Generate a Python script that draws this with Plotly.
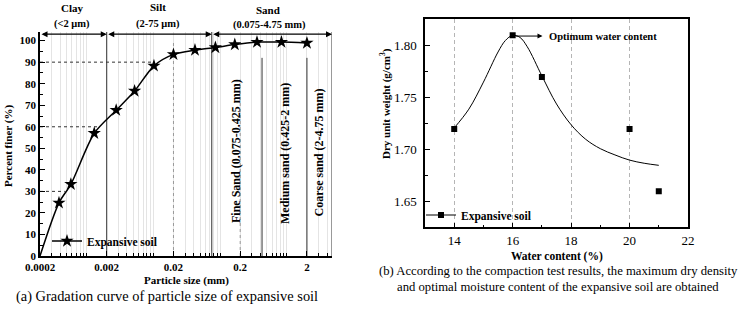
import numpy as np
import plotly.graph_objects as go

W, H = 740, 309
FONT = "Liberation Serif, Times New Roman, serif"

# ---------------- data (a) gradation curve ----------------
particle_size = [0.0002, 0.000385, 0.00058, 0.0013, 0.00277, 0.00523, 0.0102,
                 0.02, 0.042, 0.085, 0.166, 0.357, 0.83, 2.0]
percent_finer = [0, 24.7, 33.3, 57.0, 67.7, 76.6, 88.3,
                 93.6, 95.6, 96.8, 98.2, 99.3, 99.3, 98.9]
star_size = particle_size[1:]
star_finer = percent_finer[1:]
guide_y = [30, 60, 90]
guide_x_end = [0.00047, 0.00158, 0.0102]
size_ticks = [0.0002, 0.002, 0.02, 0.2, 2]
size_tick_text = ["0.0002", "0.002", "0.02", "0.2", "2"]
solid_bounds = [0.002, 0.075]
solid_bounds_top = [104, 104]
sub_bounds = [0.425, 2]
sub_bounds_top = [92, 92]
dotted_lines = [0.02, 0.2]
dotted_top = [100, 82]
x_max_a = 4.75

# ---------------- data (b) compaction ----------------
water = [14, 16, 17, 20, 21]
dry_density = [1.72, 1.81, 1.77, 1.72, 1.66]
fit_water = [14, 14.5, 15, 15.5, 15.75, 16, 16.25, 16.5, 17, 17.5, 18, 18.5, 19, 19.5, 20, 20.5, 21]
fit_density = [1.721, 1.739, 1.765, 1.794, 1.805, 1.810, 1.808, 1.799, 1.771, 1.744, 1.724,
               1.710, 1.701, 1.695, 1.690, 1.687, 1.685]

def px(x):
    return x / W

def py(y):
    return 1 - y / H

fig = go.Figure()
black = "black"

# ---- (a) ----
for xv, top in zip(solid_bounds + sub_bounds + [x_max_a], solid_bounds_top + sub_bounds_top + [104]):
    fig.add_trace(go.Scatter(x=[xv, xv], y=[0, top], mode="lines",
                             line=dict(color="#333333", width=1), showlegend=False,
                             hoverinfo="skip", xaxis="x", yaxis="y"))
for xv, top in zip(dotted_lines, dotted_top):
    fig.add_trace(go.Scatter(x=[xv, xv], y=[0, top], mode="lines",
                             line=dict(color="#999999", width=1, dash="dot"), showlegend=False,
                             hoverinfo="skip", xaxis="x", yaxis="y"))
for gy, gx in zip(guide_y, guide_x_end):
    fig.add_trace(go.Scatter(x=[particle_size[0], gx], y=[gy, gy], mode="lines",
                             line=dict(color="#333333", width=1, dash="dot"), showlegend=False,
                             hoverinfo="skip", xaxis="x", yaxis="y"))

fig.add_trace(go.Scatter(x=particle_size, y=percent_finer, mode="lines",
                         line=dict(color=black, width=1.5, shape="spline", smoothing=0.8),
                         showlegend=False, xaxis="x", yaxis="y"))
fig.add_trace(go.Scatter(x=star_size, y=star_finer, mode="markers",
                         marker=dict(symbol="star", size=10, color=black),
                         showlegend=False, xaxis="x", yaxis="y"))
fig.add_trace(go.Scatter(x=[None], y=[None], mode="lines+markers", name="Expansive soil",
                         line=dict(color=black, width=1.5),
                         marker=dict(symbol="star", size=10, color=black),
                         legend="legend", xaxis="x", yaxis="y"))

# ---- (b) ----
fig.add_trace(go.Scatter(x=fit_water, y=fit_density, mode="lines",
                         line=dict(color=black, width=1, shape="spline", smoothing=1),
                         showlegend=False, xaxis="x2", yaxis="y2"))
fig.add_trace(go.Scatter(x=water, y=dry_density, mode="markers",
                         marker=dict(symbol="square", size=6, color=black),
                         showlegend=False, xaxis="x2", yaxis="y2"))
fig.add_trace(go.Scatter(x=[None], y=[None], mode="lines+markers", name="Expansive soil",
                         line=dict(color=black, width=1),
                         marker=dict(symbol="square", size=6, color=black),
                         legend="legend2", xaxis="x2", yaxis="y2"))

minor_vals = [d * 10.0 ** k for k in range(-4, 1) for d in range(1, 10)]

bold11 = dict(family=FONT, size=11, color=black, weight="bold")
bold12 = dict(family=FONT, size=11.5, color=black, weight="bold")
reg12 = dict(family=FONT, size=13, color=black)

fig.update_layout(
    width=W, height=H, autosize=False,
    margin=dict(l=0, r=0, t=0, b=0, autoexpand=False),
    paper_bgcolor="white", plot_bgcolor="white",
    font=dict(family=FONT, color=black),
    xaxis=dict(domain=[px(40), px(332)], type="log", automargin=False,
               range=[np.log10(particle_size[0]), np.log10(x_max_a)],
               tickmode="array", tickvals=size_ticks, ticktext=size_tick_text,
               ticks="inside", ticklen=5, tickcolor=black, tickwidth=1,
               showline=True, linecolor=black, linewidth=1.5,
               showgrid=False, zeroline=False, tickfont=bold11,
               minor=dict(tickmode="array", tickvals=minor_vals, ticks="inside",
                          ticklen=3, tickcolor=black, showgrid=True,
                          gridcolor="#e4e4e4", gridwidth=1),
               anchor="y"),
    yaxis=dict(domain=[py(256), py(32)], range=[0, 104], dtick=10, tick0=0, automargin=False,
               ticks="inside", ticklen=5, tickcolor=black,
               showline=True, linecolor=black, linewidth=1.5,
               showgrid=False, zeroline=False, tickfont=bold11,
               minor=dict(dtick=5, ticks="inside", ticklen=3, tickcolor=black),
               anchor="x"),
    xaxis2=dict(domain=[px(425), px(688)], range=[13, 22], dtick=2, tick0=14, automargin=False,
                ticks="inside", ticklen=5, tickcolor=black,
                showline=True, mirror=True, linecolor=black, linewidth=1.5,
                showgrid=True, gridcolor="#b5b5b5", griddash="4px,3px", gridwidth=1,
                zeroline=False, tickfont=reg12,
                minor=dict(dtick=1, ticks="inside", ticklen=3, tickcolor=black),
                anchor="y2"),
    yaxis2=dict(domain=[py(227.3), py(19)], range=[1.6254, 1.8257], dtick=0.05, tick0=1.65,
                automargin=False, ticklabelstandoff=4,
                tickformat=".2f", ticks="inside", ticklen=5, tickcolor=black,
                showline=True, mirror=True, linecolor=black, linewidth=1.5,
                showgrid=False, zeroline=False, tickfont=reg12,
                minor=dict(dtick=0.025, ticks="inside", ticklen=3, tickcolor=black),
                anchor="x2"),
    legend=dict(x=px(47), y=py(241), xanchor="left", yanchor="middle",
                bgcolor="rgba(0,0,0,0)", font=bold12, itemwidth=30),
    legend2=dict(x=px(421), y=py(215), xanchor="left", yanchor="middle",
                 bgcolor="rgba(0,0,0,0)", font=bold12, itemwidth=30),
)

ann = []
def text(xp, yp, s, size=11, bold=True, angle=0, xanchor="center", yanchor="middle"):
    ann.append(dict(x=px(xp), y=py(yp), xref="paper", yref="paper", text=s,
                    showarrow=False, textangle=angle, xanchor=xanchor, yanchor=yanchor,
                    font=dict(family=FONT, size=size, color=black,
                              weight="bold" if bold else "normal")))

# top category labels
text(72, 8, "Clay", size=11); text(72, 24, "(<2 μm)", size=10.5)
text(158, 7, "Silt", size=11); text(158, 24, "(2-75 μm)", size=10.5)
text(268, 10, "Sand", size=11); text(269, 25, "(0.075-4.75 mm)", size=10.5)

# double arrows in data coordinates
arrow_spans = [(0.0002, 0.002), (0.002, 0.075), (0.075, x_max_a)]
for a, b in arrow_spans:
    ann.append(dict(x=np.log10(b), y=103, ax=np.log10(a), ay=103,
                    xref="x", yref="y", axref="x", ayref="y", text="",
                    showarrow=True, arrowhead=2, arrowside="end+start",
                    arrowsize=1, arrowwidth=1.2, arrowcolor=black, standoff=0, startstandoff=0))

# rotated sand labels
text(236, 151, "Fine Sand (0.075-0.425 mm)", size=12, angle=-90)
text(285, 154, "Medium sand (0.425-2 mm)", size=12, angle=-90)
text(318, 152.5, "Coarse sand (2-4.75 mm)", size=12, angle=-90)

# axis titles (a)
text(9, 146, "Percent finer (%)", size=11, angle=-90)
text(186, 280, "Particle size (mm)", size=11)
text(167, 296, "(a) Gradation curve of particle size of expansive soil", size=14.4, bold=False)

# (b) annotation arrow
ann.append(dict(x=17.02, y=1.8093, ax=16.05, ay=1.8093, xref="x2", yref="y2",
                axref="x2", ayref="y2", text="", showarrow=True, arrowhead=2,
                arrowsize=1, arrowwidth=1, arrowcolor=black, standoff=0))
ann.append(dict(x=17.18, y=1.8093, xref="x2", yref="y2", text="Optimum water content",
                showarrow=False, xanchor="left", yanchor="middle",
                font=dict(family=FONT, size=10.5, color=black, weight="bold")))

text(385, 104, "Dry unit weight (g/cm<sup>3</sup>)", size=11, angle=-90)
text(557, 256, "Water content (%)", size=11.5)
text(558, 271, "(b) According to the compaction test results, the maximum dry density", size=12.7, bold=False)
text(558, 287, "and optimal moisture content of the expansive soil are obtained", size=12.7, bold=False)

fig.update_layout(annotations=ann)
fig.write_html("out.html", config={"displayModeBar": False},
               post_script="document.body.style.margin='0px';document.body.style.overflow='hidden';")
